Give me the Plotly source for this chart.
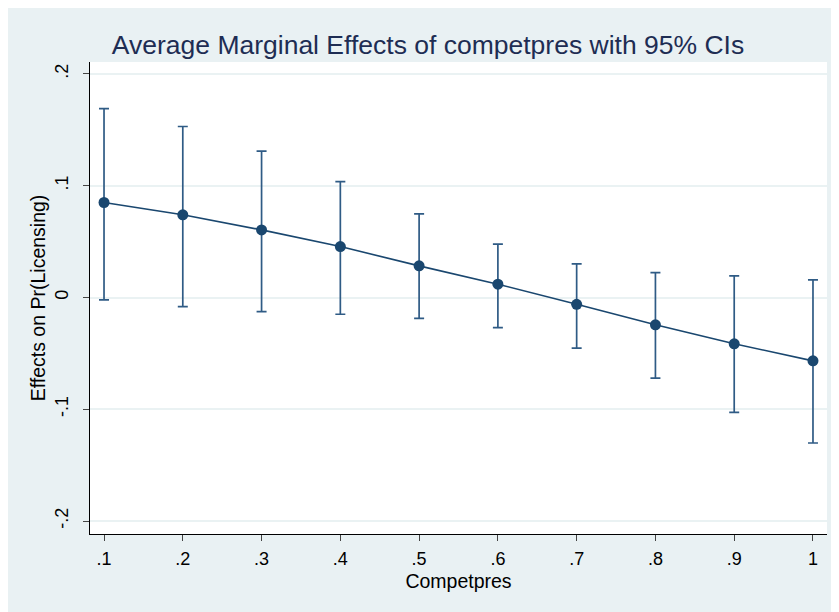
import plotly.graph_objects as go

x_vals = [0.1, 0.2, 0.3, 0.4, 0.5, 0.6, 0.7, 0.8, 0.9, 1.0]
effects = [0.0850, 0.0740, 0.0605, 0.0456, 0.0283, 0.0119, -0.0061, -0.0244, -0.0414, -0.0567]
ci_upper = [0.169, 0.153, 0.131, 0.1036, 0.0749, 0.0478, 0.0300, 0.0222, 0.0193, 0.0157]
ci_lower = [-0.0022, -0.0082, -0.0127, -0.0150, -0.0186, -0.0270, -0.0453, -0.0722, -0.1027, -0.1302]

x_tickvals = [0.1, 0.2, 0.3, 0.4, 0.5, 0.6, 0.7, 0.8, 0.9, 1.0]
x_ticktext = [".1", ".2", ".3", ".4", ".5", ".6", ".7", ".8", ".9", "1"]
y_tickvals = [-0.2, -0.1, 0, 0.1, 0.2]
y_ticktext = ["-.2", "-.1", "0", ".1", ".2"]

navy = "#1a476f"
bg = "#e9f1f3"

err_plus = [u - e for u, e in zip(ci_upper, effects)]
err_minus = [e - l for e, l in zip(effects, ci_lower)]

fig = go.Figure()
fig.add_trace(go.Scatter(
    x=x_vals, y=effects, mode="lines+markers",
    line=dict(color=navy, width=1.6),
    marker=dict(color=navy, size=11),
    error_y=dict(type="data", symmetric=False, array=err_plus, arrayminus=err_minus,
                 color="#2f5b85", thickness=1.7, width=5),
    showlegend=False,
))

# page has an 8px body margin, so the figure starts at (8, 8)
W, H = 831, 604
ml, mr, mt, mb = 82, 12, 54, 78

fig.update_layout(
    width=W, height=H,
    margin=dict(l=ml, r=mr, t=mt, b=mb, autoexpand=False),
    paper_bgcolor=bg, plot_bgcolor="white",
    font=dict(family="Liberation Sans, Arial, sans-serif", color="black"),
    title=dict(text="Average Marginal Effects of competpres with 95% CIs",
               x=420 / W, xanchor="center", y=1 - 37 / H, yanchor="middle",
               font=dict(size=26.5, color="#1e2d53")),
    xaxis=dict(range=[0.0822, 1.0178], tickvals=x_tickvals, ticktext=x_ticktext,
               showgrid=False, zeroline=False, showline=True, linecolor="black", linewidth=1.2,
               ticks="outside", ticklen=6, tickcolor="#444", tickwidth=1.2,
               tickfont=dict(size=18), ticklabelstandoff=2,
               title=dict(text="Competpres", font=dict(size=19.5), standoff=6)),
    yaxis=dict(range=[-0.2116, 0.2107], tickvals=y_tickvals, ticktext=y_ticktext,
               showgrid=True, gridcolor="#eaf2f3", gridwidth=1.5, zeroline=False,
               showline=True, linecolor="black", linewidth=1.2,
               ticks="outside", ticklen=6, tickcolor="#444", tickwidth=1.2,
               tickangle=-90, tickfont=dict(size=18), ticklabelstandoff=8,
               title=dict(text="Effects on Pr(Licensing)", font=dict(size=19.5), standoff=0)),
)

fig.write_html("out.html")
